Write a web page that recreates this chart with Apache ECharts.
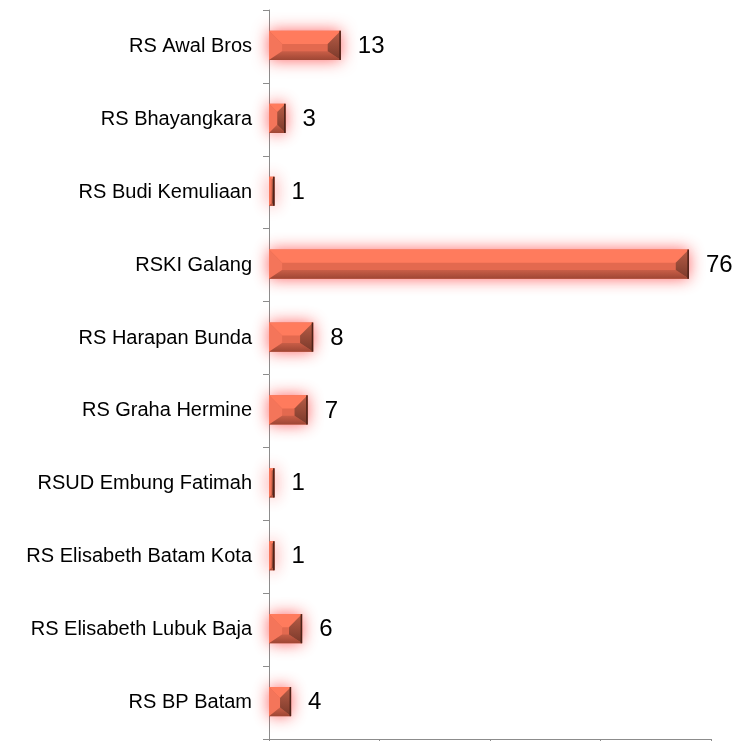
<!DOCTYPE html>
<html>
<head>
<meta charset="utf-8">
<script src="https://cdn.jsdelivr.net/npm/echarts@6/dist/echarts.min.js"></script>
<style>
html,body{margin:0;padding:0;background:#fff;}
#chart{width:738px;height:741px;}
</style>
</head>
<body>
<div id="chart"></div>
<script>
const categories = ["RS Awal Bros","RS Bhayangkara","RS Budi Kemuliaan","RSKI Galang","RS Harapan Bunda","RS Graha Hermine","RSUD Embung Fatimah","RS Elisabeth Batam Kota","RS Elisabeth Lubuk Baja","RS BP Batam"];
const values = [13,3,1,76,8,7,1,1,6,4];
const axisMin = 0, axisMax = 80, axisInterval = 20;

const chart = echarts.init(document.getElementById('chart'));

function renderItem(params, api) {
  const v = api.value(0);
  const idx = api.value(1);
  const s = api.coord([0, idx]);
  const e = api.coord([v, idx]);
  const band = api.size([0, 1])[1];
  const h = band * 0.4;
  const x0 = s[0], x1 = e[0], yc = s[1] - 1;
  const y0 = yc - h / 2, y1 = yc + h / 2;
  const w = x1 - x0;
  const bt = Math.min(h * 0.45, w / 2);
  const bb = Math.min(h * 0.3, w / 2);
  const bs = Math.min(h * 0.45, w / 2);
  const children = [
    {type:'rect', shape:{x:x0,y:y0,width:w,height:h},
     style:{fill:'#E3694F', shadowBlur:16, shadowColor:'rgba(255,30,30,0.7)'}},
    {type:'polygon', shape:{points:[[x0,y0],[x1,y0],[x1-bs,y0+bt],[x0+bs,y0+bt]]},
     style:{fill:'#FF7B5D'}},
    {type:'polygon', shape:{points:[[x0,y0],[x0+bs,y0+bt],[x0+bs,y1-bb],[x0,y1]]},
     style:{fill:'#F4755A'}},
    {type:'polygon', shape:{points:[[x0,y1],[x0+bs,y1-bb],[x1-bs,y1-bb],[x1,y1]]},
     style:{fill:new echarts.graphic.LinearGradient(0,0,0,1,[{offset:0,color:'#C95E47'},{offset:1,color:'#9E4634'}])}},
    {type:'polygon', shape:{points:[[x1,y0],[x1,y1],[x1-bs,y1-bb],[x1-bs,y0+bt]]},
     style:{fill:new echarts.graphic.LinearGradient(0,0,0,1,[{offset:0,color:'#B85D47'},{offset:1,color:'#7A392A'}])}},
    {type:'line', shape:{x1:x1-0.75,y1:y0,x2:x1-0.75,y2:y1},
     style:{stroke:'#4E2219', lineWidth:1.5}},
    {type:'text', x:x1+17, y:yc+1,
     style:{text:String(v), fill:'#000', font:'24px "Liberation Sans", Arial, sans-serif', verticalAlign:'middle', align:'left'}}
  ];
  return {type:'group', children};
}

chart.setOption({
  animation:false,
  backgroundColor:'#fff',
  grid:{left:269, right:27, top:10, bottom:2, containLabel:false, outerBoundsMode:'none'},
  xAxis:{type:'value', min:axisMin, max:axisMax, interval:axisInterval,
    axisLine:{show:true, lineStyle:{color:'#8c8c8c', width:1}},
    axisTick:{show:true, length:4, lineStyle:{color:'#8c8c8c'}},
    axisLabel:{show:false}, splitLine:{show:false}},
  yAxis:{type:'category', data:categories, inverse:true,
    axisLine:{show:true, lineStyle:{color:'#8c8c8c', width:1}},
    axisTick:{show:true, length:6, alignWithLabel:false, lineStyle:{color:'#8c8c8c'}},
    axisLabel:{color:'#000', fontSize:20, fontFamily:'"Liberation Sans", Arial, sans-serif', margin:17}},
  series:[{type:'custom', renderItem,
    encode:{x:0, y:1},
    data: values.map((v,i)=>[v,i]),
    clip:false}]
});
</script>
</body>
</html>
